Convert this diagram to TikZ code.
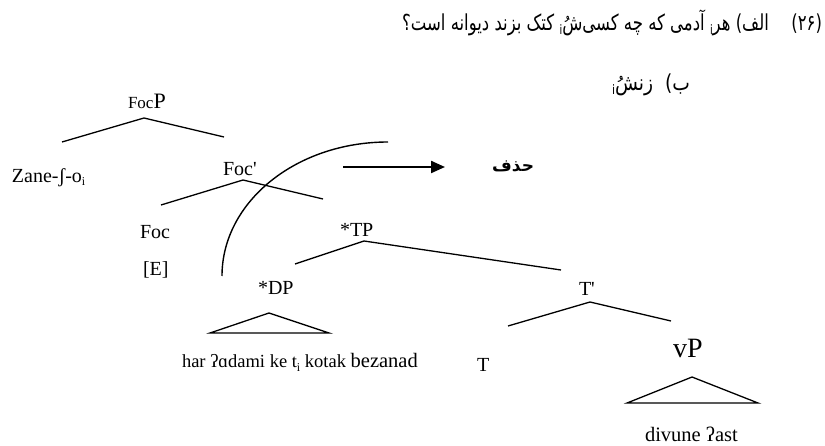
\documentclass[tikz,border=0pt]{standalone}
\usepackage{fontspec}
\setmainfont{Liberation Serif}
\newfontfamily\arabicfont[Script=Arabic]{DejaVu Sans}
\TeXXeTstate=1
\usetikzlibrary{arrows.meta}
\newcommand{\fsz}[1]{\fontsize{#1}{#1}\selectfont}
\newcommand{\isub}{\raisebox{-4pt}{\fsz{13}i}}
\newcommand{\lsub}[1]{\raisebox{-3pt}{\fsz{12}#1}}
\newcommand{\pr}{\textquotesingle}
\begin{document}
\begin{tikzpicture}[x=1pt,y=-1pt,
  every node/.style={inner sep=0pt,outer sep=0pt},
  branch/.style={line width=1.3pt},
  tri/.style={line width=1.3pt},
  lbl/.style={anchor=base west,font=\fsz{20}},
  fa/.style={anchor=base east,font=\arabicfont\fsz{22}}]
\useasboundingbox (0,0) rectangle (825,446);

% Persian example lines
\node[fa] (ex1) at (822,31) {\scalebox{0.75}[1]{\beginR(۲۶)\hspace{30pt}الف) هر\isub\ آدمی که چه کسی^^^^200cشُ\isub\ کتک بزند دیوانه است؟\endR}};
\node[fa] (ex2) at (690,91) {\scalebox{0.85}[1]{\beginR ب)\hspace{14pt}زنشُ\isub\endR}};

% labels
\node[lbl] (focp) at (128,109) {\fsz{17}Foc\fsz{22}P};
\node[lbl] (zane) at (12,183) {Zane-ʃ-o\lsub{i}};
\node[lbl] (focbar) at (223,176) {Foc\pr};
\node[lbl] (foc) at (140,239) {Foc};
\node[lbl] (e) at (143,276) {[E]};
\node[lbl] (tp) at (340,237) {*TP};
\node[lbl] (dp) at (258,295) {*DP};
\node[lbl] (tbar) at (579,296) {T\pr};
\node[lbl] (t) at (477,371) {T};
\node[lbl] (vp) at (673,358) {\fsz{28}vP};
\node[lbl] (dptext) at (182,368) {\fsz{18.5}har ʔɑdami ke t\lsub{i} kotak \fsz{20.5}bezanad};
\node[lbl] (vptext) at (645,441) {\fsz{20.5}divune ʔast};
\node[anchor=base east,font=\arabicfont\bfseries\fsz{17}] (hazf) at (534,172) {\beginR حذف\endR};

% branch points
\coordinate (a1) at (144,118); \coordinate (a1l) at (62,142); \coordinate (a1r) at (224,137);
\coordinate (b1) at (243,180); \coordinate (b1l) at (161,205); \coordinate (b1r) at (323,199);
\coordinate (c1) at (364,241); \coordinate (c1l) at (295,264); \coordinate (c1r) at (561,270);
\coordinate (d1) at (590,302); \coordinate (d1l) at (508,326); \coordinate (d1r) at (671,321);
\draw[branch] (a1l) -- (a1) -- (a1r);
\draw[branch] (b1l) -- (b1) -- (b1r);
\draw[branch] (c1l) -- (c1) -- (c1r);
\draw[branch] (d1l) -- (d1) -- (d1r);

% triangles
\coordinate (dpt) at (269,313); \coordinate (dpl) at (210,333); \coordinate (dpr) at (329,333);
\draw[tri,line join=miter] (dpl) -- (dpt) -- (dpr) -- cycle;
\coordinate (vpt) at (692,377); \coordinate (vpl) at (627,403); \coordinate (vpr) at (758,403);
\draw[tri,line join=miter] (vpl) -- (vpt) -- (vpr) -- cycle;

% ellipsis arc
\coordinate (arcS) at (222,276); \coordinate (arcE) at (388,142);
\draw[line width=1.4pt] (arcS) .. controls (222,202) and (296,142) .. (arcE);

% arrow
\coordinate (arS) at (343,167); \coordinate (arE) at (445,167);
\draw[line width=2.2pt,-{Triangle[length=14pt,width=12pt]}] (arS) -- (arE);
\end{tikzpicture}
\end{document}
